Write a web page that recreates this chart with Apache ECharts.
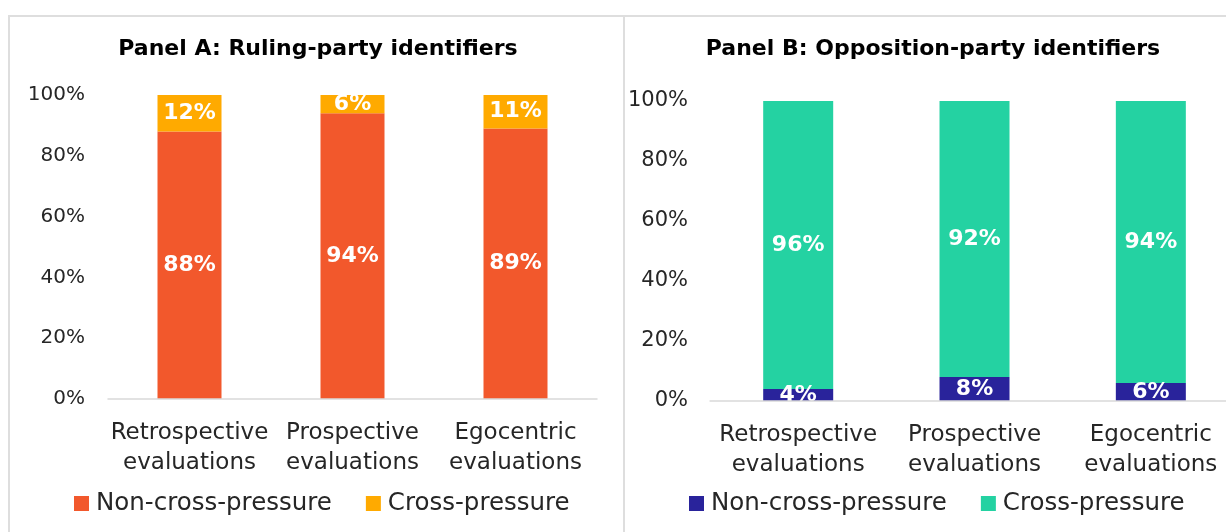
<!DOCTYPE html>
<html>
<head>
<meta charset="utf-8">
<script src="https://cdn.jsdelivr.net/npm/echarts@6/dist/echarts.min.js"></script>
<style>
  html, body { margin: 0; padding: 0; background: #ffffff; width: 1226px; height: 532px; overflow: hidden; }
  .panel { position: absolute; border: 2px solid #DEDEDE; background: #fff; }
  #panelA { left: 8px; top: 15px; width: 615px; height: 530px; }
  #panelB { left: 623px; top: 15px; width: 630px; height: 530px; }
</style>
</head>
<body>
<div id="panelA" class="panel"></div>
<div id="panelB" class="panel"></div>
<script>
// Evaluation types shown on the x axis
const categories = ['Retrospective\nevaluations', 'Prospective\nevaluations', 'Egocentric\nevaluations'];
const seriesNames = ['Non-cross-pressure', 'Cross-pressure'];

// Panel A: ruling-party identifiers (percent)
const rulingNonCross = [88, 94, 89];
const rulingCross = [12, 6, 11];

// Panel B: opposition-party identifiers (percent)
const oppositionNonCross = [4, 8, 6];
const oppositionCross = [96, 92, 94];

const yTicks = [0, 20, 40, 60, 80, 100];

const FONT = '"DejaVu Sans", sans-serif';

function buildOption(cfg) {
  const mkSeries = (name, data, color) => ({
    name: name,
    type: 'bar',
    stack: 'total',
    data: data,
    barWidth: cfg.barWidth,
    itemStyle: { color: color },
    label: {
      show: true,
      position: 'inside',
      formatter: p => p.value + '%',
      color: '#ffffff',
      fontFamily: FONT,
      fontWeight: 'bold',
      fontSize: 22
    },
    emphasis: { disabled: true }
  });
  return {
    animation: false,
    textStyle: { fontFamily: FONT },
    title: {
      text: cfg.title,
      left: cfg.titleX,
      textAlign: 'center',
      top: 21,
      padding: 0,
      textStyle: { fontFamily: FONT, fontWeight: 'bold', fontSize: 22, color: '#000000' }
    },
    legend: {
      data: seriesNames,
      left: cfg.legendLeft,
      top: 474,
      padding: 0,
      itemWidth: 15,
      itemHeight: 15,
      itemGap: 34,
      icon: 'rect',
      selectedMode: false,
      textStyle: { fontFamily: FONT, fontSize: 24.5, color: '#262626', padding: [0, 0, 0, 2] }
    },
    grid: cfg.grid,
    xAxis: {
      type: 'category',
      data: categories,
      z: 5,
      axisLine: { lineStyle: { color: '#D9D9D9', width: 1.5 } },
      axisTick: { show: false },
      axisLabel: {
        interval: 0,
        margin: 19,
        fontFamily: FONT,
        fontSize: 23,
        lineHeight: 30,
        color: '#262626'
      }
    },
    yAxis: {
      type: 'value',
      min: yTicks[0],
      max: yTicks[yTicks.length - 1],
      interval: yTicks[1] - yTicks[0],
      splitLine: { show: false },
      axisLine: { show: false },
      axisTick: { show: false },
      axisLabel: {
        formatter: '{value}%',
        margin: cfg.yMargin,
        fontFamily: FONT,
        fontSize: cfg.yFont,
        color: '#262626'
      }
    },
    series: [
      mkSeries(seriesNames[0], cfg.nonCross, cfg.colors[0]),
      mkSeries(seriesNames[1], cfg.cross, cfg.colors[1])
    ]
  };
}

const chartA = echarts.init(document.getElementById('panelA'), null, { renderer: 'canvas' });
chartA.setOption(buildOption({
  title: 'Panel A: Ruling-party identifiers',
  titleX: 308,
  grid: { left: 98, top: 78, width: 489, height: 304 },
  barWidth: 64,
  yMargin: 23,
  yFont: 20,
  legendLeft: 64,
  nonCross: rulingNonCross,
  cross: rulingCross,
  colors: ['#F2582C', '#FFAA00']
}));

const chartB = echarts.init(document.getElementById('panelB'), null, { renderer: 'canvas' });
chartB.setOption(buildOption({
  title: 'Panel B: Opposition-party identifiers',
  titleX: 308,
  grid: { left: 85, top: 84, width: 529, height: 300 },
  barWidth: 70,
  yMargin: 22,
  yFont: 21,
  legendLeft: 64,
  nonCross: oppositionNonCross,
  cross: oppositionCross,
  colors: ['#29239B', '#24D2A2']
}));
</script>
</body>
</html>
